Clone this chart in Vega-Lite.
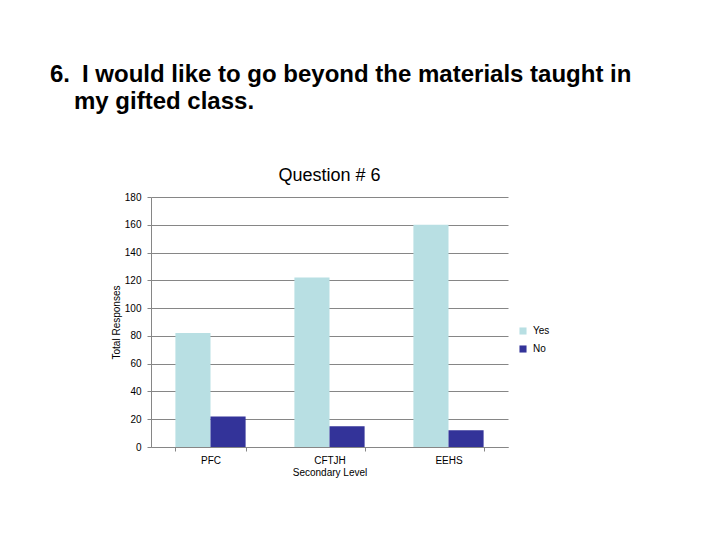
{
  "$schema": "https://vega.github.io/schema/vega-lite/v6.json",
  "background": "white",
  "autosize": {"type": "pad"},
  "padding": {"left": 50, "top": 63, "right": 5, "bottom": 5},
  "config": {
    "font": "Liberation Sans",
    "view": {"stroke": null},
    "concat": {"spacing": 0}
  },
  "title": {
    "text": ["6.\u2002I would like to go beyond the materials taught in", "\u200b\u2002\u2002my gifted class."],
    "anchor": "start",
    "frame": "group",
    "fontSize": 24,
    "fontWeight": "bold",
    "font": "Liberation Sans",
    "color": "#000000",
    "lineHeight": 27,
    "dx": -101,
    "offset": 53
  },
  "data": {
    "values": [
      {"school": "PFC", "answer": "Yes", "count": 82},
      {"school": "PFC", "answer": "No", "count": 22},
      {"school": "CFTJH", "answer": "Yes", "count": 122},
      {"school": "CFTJH", "answer": "No", "count": 15},
      {"school": "EEHS", "answer": "Yes", "count": 160},
      {"school": "EEHS", "answer": "No", "count": 12}
    ]
  },
  "vconcat": [
    {
      "width": 357,
      "height": 250,
      "title": {
        "text": "Question # 6",
        "anchor": "middle",
        "fontSize": 18,
        "fontWeight": "normal",
        "font": "Liberation Sans",
        "color": "#000000",
        "offset": 7
      },
      "mark": {"type": "bar"},
      "encoding": {
        "x": {
          "field": "school",
          "type": "nominal",
          "sort": ["PFC", "CFTJH", "EEHS"],
          "scale": {"paddingInner": 0.41, "paddingOuter": 0.205},
          "axis": {
            "title": "Secondary Level",
            "labelAngle": 0,
            "labelFontSize": 10,
            "labelColor": "#000000",
            "titleFontSize": 10,
            "titleFontWeight": "normal",
            "titleColor": "#000000",
            "titlePadding": 2,
            "labelPadding": 4,
            "tickBand": "extent",
            "tickSize": 4,
            "tickColor": "#868686",
            "domainColor": "#868686",
            "grid": false
          }
        },
        "xOffset": {
          "field": "answer",
          "type": "nominal",
          "sort": ["Yes", "No"],
          "scale": {"paddingInner": 0, "paddingOuter": 0}
        },
        "y": {
          "field": "count",
          "type": "quantitative",
          "scale": {"domain": [0, 180]},
          "axis": {
            "title": "Total Responses",
            "values": [0, 20, 40, 60, 80, 100, 120, 140, 160, 180],
            "labelFontSize": 10,
            "labelColor": "#000000",
            "titleFontSize": 10,
            "titleFontWeight": "normal",
            "titleColor": "#000000",
            "titlePadding": 3,
            "labelPadding": 6,
            "tickSize": 4,
            "tickColor": "#868686",
            "domainColor": "#868686",
            "gridColor": "#868686",
            "gridOpacity": 1
          }
        },
        "color": {
          "field": "answer",
          "type": "nominal",
          "sort": ["Yes", "No"],
          "scale": {"domain": ["Yes", "No"], "range": ["#b8dfe3", "#333399"]},
          "legend": {
            "title": null,
            "orient": "none",
            "legendX": 367,
            "legendY": 129,
            "symbolType": "square",
            "symbolSize": 50,
            "symbolStrokeWidth": 0,
            "labelFontSize": 10,
            "labelColor": "#000000",
            "rowPadding": 8,
            "labelOffset": 5
          }
        }
      }
    }
  ]
}
